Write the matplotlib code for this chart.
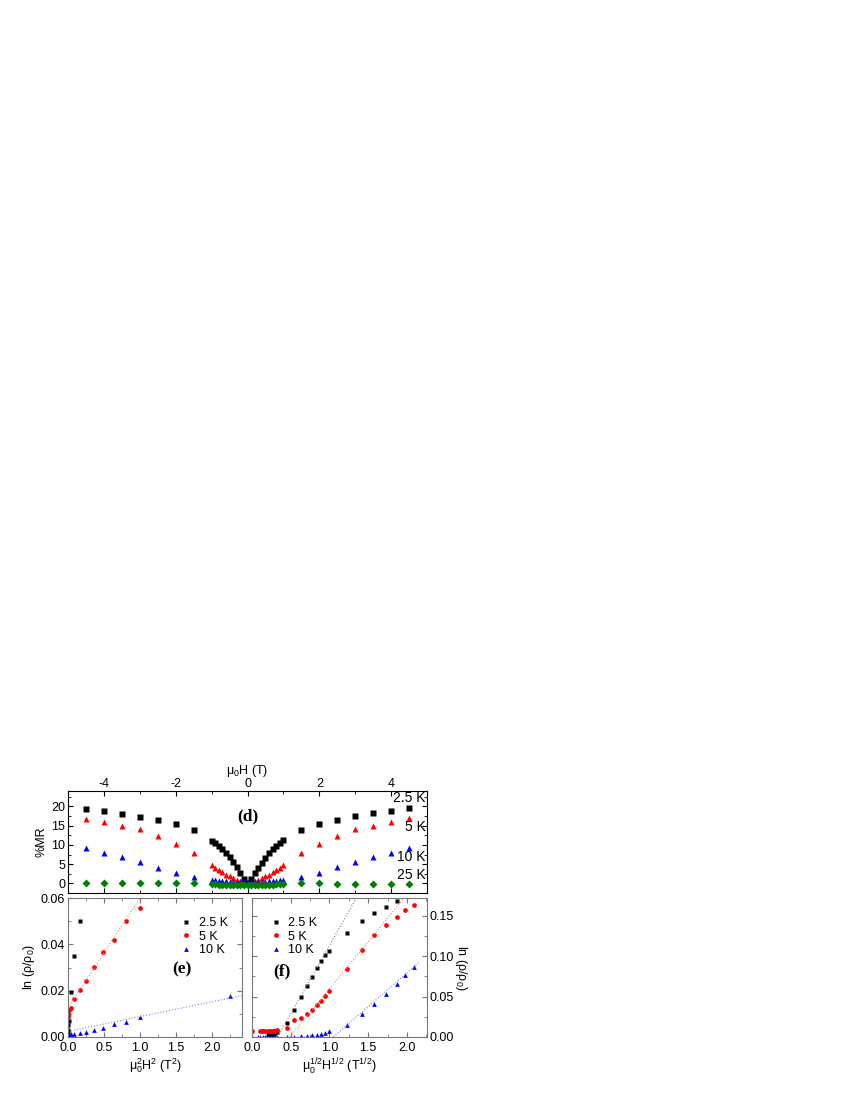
import numpy as np
import matplotlib
matplotlib.use('Agg')
import matplotlib.pyplot as plt
from matplotlib.ticker import MultipleLocator

plt.rcParams['font.family'] = ['Liberation Sans', 'DejaVu Sans']
plt.rcParams['mathtext.default'] = 'regular'
plt.rcParams['axes.unicode_minus'] = False
plt.rcParams['font.size'] = 9

# ---- panel (d): %MR vs field ----
field_d = [-4.5, -4.0, -3.5, -3.0, -2.5, -2.0, -1.5,
           -1.0, -0.9, -0.8, -0.7, -0.6, -0.5, -0.4, -0.3, -0.2, -0.1, 0.0,
           0.1, 0.2, 0.3, 0.4, 0.5, 0.6, 0.7, 0.8, 0.9, 1.0,
           1.5, 2.0, 2.5, 3.0, 3.5, 4.0, 4.5]
mr_2p5K = [19.4, 18.8, 18.1, 17.3, 16.4, 15.3, 13.8,
           10.9, 10.4, 9.7, 8.8, 7.8, 6.8, 5.6, 4.3, 2.8, 1.2, 0.0,
           1.1, 2.6, 4.0, 5.4, 6.7, 7.8, 8.8, 9.7, 10.5, 11.3,
           13.8, 15.4, 16.5, 17.4, 18.2, 18.9, 19.6]
mr_5K = [16.8, 15.9, 15.0, 14.0, 12.4, 10.3, 7.9,
         4.7, 4.1, 3.5, 2.9, 2.3, 1.8, 1.3, 0.9, 0.5, 0.2, 0.0,
         0.2, 0.5, 0.9, 1.3, 1.8, 2.3, 2.9, 3.5, 4.1, 4.8,
         7.9, 10.3, 12.4, 14.0, 15.0, 16.0, 16.9]
mr_10K = [9.1, 7.9, 6.8, 5.5, 4.1, 2.8, 1.6,
          0.9, 0.8, 0.7, 0.6, 0.5, 0.4, 0.4, 0.3, 0.3, 0.3, 0.3,
          0.3, 0.3, 0.3, 0.4, 0.4, 0.5, 0.6, 0.7, 0.8, 0.9,
          1.6, 2.8, 4.2, 5.5, 6.9, 8.0, 9.2]
mr_25K = [0.2, 0.2, 0.2, 0.2, 0.2, 0.2, 0.0,
          -0.1, -0.2, -0.3, -0.3, -0.4, -0.4, -0.5, -0.5, -0.5, -0.5, -0.5,
          -0.5, -0.5, -0.5, -0.4, -0.4, -0.3, -0.3, -0.2, -0.2, -0.1,
          0.0, 0.0, -0.1, -0.1, -0.1, -0.2, -0.1]
temp_labels = ['2.5 K', '5 K', '10 K', '25 K']
temp_label_y = [22.2, 14.7, 6.9, 2.2]

# ---- panel (e): ln(rho/rho0) vs H^2 ----
field_e_2p5K = [0.03, 0.05, 0.06, 0.07, 0.08, 0.09, 0.2, 0.3, 0.4]
lnr_e_2p5K = [0.0005, 0.001, 0.002, 0.003, 0.005, 0.007, 0.0196, 0.035, 0.050]
field_e_5K = [0.03, 0.05, 0.07, 0.1, 0.2, 0.3, 0.4, 0.5, 0.6, 0.7, 0.8, 0.9, 1.0]
lnr_e_5K = [0.0085, 0.0095, 0.0105, 0.0115, 0.0127, 0.0163, 0.0203, 0.0242,
            0.0304, 0.0367, 0.0420, 0.0500, 0.0556]
field_e_10K = [0.05, 0.1, 0.2, 0.3, 0.4, 0.5, 0.6, 0.7, 0.8, 0.9, 1.0, 1.5]
lnr_e_10K = [0.0008, 0.0010, 0.0012, 0.0014, 0.0017, 0.0022, 0.0030, 0.0040,
             0.0057, 0.0066, 0.0087, 0.0177]
# linear fits: (intercept, slope, x_start, x_end)
fit_e_5K = (0.0125, 0.0475, 0.0, 1.0)
fit_e_10K = (0.0024, 0.0064, 0.0, 2.42)

# ---- panel (f): ln(rho/rho0) vs H^1/2 ----
field_f_2p5K = [0.04, 0.05, 0.06, 0.07, 0.08, 0.09, 0.1,
                0.2, 0.3, 0.4, 0.5, 0.6, 0.7, 0.8, 0.9, 1.0,
                1.5, 2.0, 2.5, 3.0, 3.5]
lnr_f_2p5K = [0.002, 0.0025, 0.003, 0.0035, 0.004, 0.005, 0.006,
              0.0178, 0.034, 0.049, 0.063, 0.074, 0.085, 0.094, 0.101, 0.107,
              0.1285, 0.144, 0.153, 0.1615, 0.1686]
field_f_5K = [0.0, 0.01, 0.015, 0.02, 0.03, 0.04, 0.05, 0.06, 0.07, 0.08, 0.09, 0.1,
              0.2, 0.3, 0.4, 0.5, 0.6, 0.7, 0.8, 0.9, 1.0,
              1.5, 2.0, 2.5, 3.0, 3.5, 3.9, 4.4]
lnr_f_5K = [0.0078, 0.0075, 0.0075, 0.0076, 0.0076, 0.0077, 0.0077, 0.0078, 0.0078,
            0.0079, 0.0080, 0.0082,
            0.0108, 0.021, 0.0235, 0.0285, 0.0335, 0.039, 0.044, 0.051, 0.0575,
            0.0847, 0.1075, 0.126, 0.139, 0.149, 0.157, 0.164]
field_f_10K = [0.0, 0.005, 0.01, 0.02, 0.03, 0.04, 0.05, 0.06, 0.07, 0.08, 0.09, 0.1,
               0.2, 0.3, 0.4, 0.5, 0.6, 0.7, 0.8, 0.9, 1.0,
               1.5, 2.0, 2.5, 3.0, 3.5, 3.9, 4.4]
lnr_f_10K = [0.0004, 0.0005, 0.0005, 0.0005, 0.0005, 0.0005, 0.0005, 0.0005, 0.0005,
             0.0005, 0.0005, 0.0005,
             0.0003, 0.0003, 0.0008, 0.0012, 0.0025, 0.003, 0.004, 0.0053, 0.0074,
             0.0152, 0.0289, 0.0405, 0.053, 0.066, 0.077, 0.087]
# linear fits: (x at zero, slope, x_end)
fit_f_2p5K = (0.33, 0.169, 1.35)
fit_f_5K = (0.49, 0.117, 1.96)
fit_f_10K = (1.05, 0.0835, 2.15)

legend_labels = ['2.5 K', '5 K', '10 K']


def style_axis(ax, spine_color):
    for s in ax.spines.values():
        s.set_color(spine_color)
        s.set_linewidth(0.8)
    ax.tick_params(which='both', direction='in', top=True, bottom=True,
                   left=True, right=True, color=spine_color, pad=2, labelsize=9)
    ax.tick_params(which='major', length=3.5)
    ax.tick_params(which='minor', length=2)


fig = plt.figure(figsize=(8.5, 11), dpi=100)

# panel (d)
ax_d = fig.add_axes([0.08, 0.1882, 0.4224, 0.0927])
style_axis(ax_d, 'black')
ax_d.plot(field_d, mr_2p5K, 's', color='black', ms=4.2, mec='none')
ax_d.plot(field_d, mr_5K, '^', color='red', ms=5, mec='none')
ax_d.plot(field_d, mr_10K, '^', color='blue', ms=5, mec='none')
ax_d.plot(field_d, mr_25K, 'D', color='#008000', ms=3.8, mec='none')
for lab, yv in zip(temp_labels, temp_label_y):
    ax_d.text(4.97, yv, lab, ha='right', va='center', fontsize=10)
ax_d.text(0, 17.3, '(d)', ha='center', va='center', fontsize=12.5,
          fontweight='bold', family='Liberation Serif')
ax_d.set_xlim(-5, 5)
ax_d.set_ylim(-2.5, 24)
ax_d.xaxis.set_major_locator(MultipleLocator(2))
ax_d.xaxis.set_minor_locator(MultipleLocator(1))
ax_d.yaxis.set_major_locator(MultipleLocator(5))
ax_d.yaxis.set_minor_locator(MultipleLocator(2.5))
ax_d.tick_params(labelbottom=False, labeltop=True)
ax_d.tick_params(axis='x', pad=0.5)
ax_d.xaxis.set_label_position('top')
ax_d.set_xlabel('μ$_0$H (T)', fontsize=9, labelpad=3)
ax_d.set_ylabel('%MR', fontsize=9, labelpad=3)

# panel (e)
ax_e = fig.add_axes([0.08, 0.0573, 0.2047, 0.1263])
style_axis(ax_e, '#777777')
ax_e.plot(np.array(field_e_2p5K) ** 2, lnr_e_2p5K, 's', color='black', ms=2.8,
          mec='none', label=legend_labels[0])
ax_e.plot(np.array(field_e_5K) ** 2, lnr_e_5K, 'o', color='red', ms=3.4,
          mec='none', label=legend_labels[1])
ax_e.plot(np.array(field_e_10K) ** 2, lnr_e_10K, '^', color='blue', ms=3.4,
          mec='none', label=legend_labels[2])
for (b, m, x0, x1), c in zip([fit_e_5K, fit_e_10K], ['#ff8080', '#8080ff']):
    xx = np.array([x0, x1])
    ax_e.plot(xx, b + m * xx, ':', color=c, lw=0.8)
ax_e.text(1.58, 0.029, '(e)', ha='center', va='center', fontsize=12.5,
          fontweight='bold', family='Liberation Serif')
ax_e.set_xlim(0, 2.42)
ax_e.set_ylim(0, 0.06)
ax_e.xaxis.set_major_locator(MultipleLocator(0.5))
ax_e.xaxis.set_minor_locator(MultipleLocator(0.25))
ax_e.yaxis.set_major_locator(MultipleLocator(0.02))
ax_e.yaxis.set_minor_locator(MultipleLocator(0.01))
ax_e.yaxis.set_major_formatter(plt.FormatStrFormatter('%.2f'))
ax_e.xaxis.set_major_formatter(plt.FormatStrFormatter('%.1f'))
ax_e.tick_params(axis='x', pad=3.5)
ax_e.set_xlabel('μ$_0^2$H$^2$ (T$^2$)', fontsize=9, labelpad=2)
ax_e.set_ylabel('ln (ρ/ρ$_0$)', fontsize=9, labelpad=3)
ax_e.legend(loc='upper right', frameon=False, fontsize=9, handletextpad=0.4,
            borderaxespad=0.6, labelspacing=0.1, handlelength=1.2,
            bbox_to_anchor=(0.99, 0.95))

# panel (f)
ax_f = fig.add_axes([0.2965, 0.0573, 0.2059, 0.1263])
style_axis(ax_f, '#777777')
ax_f.plot(np.sqrt(field_f_2p5K), lnr_f_2p5K, 's', color='black', ms=2.8,
          mec='none', label=legend_labels[0])
ax_f.plot(np.sqrt(field_f_5K), lnr_f_5K, 'o', color='red', ms=3.4,
          mec='none', label=legend_labels[1])
ax_f.plot(np.sqrt(field_f_10K), lnr_f_10K, '^', color='blue', ms=3.4,
          mec='none', label=legend_labels[2])
for (x0, m, x1), c in zip([fit_f_2p5K, fit_f_5K, fit_f_10K],
                          ['#808080', '#ff8080', '#8080ff']):
    xx = np.array([x0, x1])
    ax_f.plot(xx, m * (xx - x0), ':', color=c, lw=0.8)
ax_f.text(0.38, 0.081, '(f)', ha='center', va='center', fontsize=12.5,
          fontweight='bold', family='Liberation Serif')
ax_f.set_xlim(0, 2.26)
ax_f.set_ylim(0, 0.172)
ax_f.xaxis.set_major_locator(MultipleLocator(0.5))
ax_f.xaxis.set_minor_locator(MultipleLocator(0.25))
ax_f.yaxis.set_major_locator(MultipleLocator(0.05))
ax_f.yaxis.set_minor_locator(MultipleLocator(0.025))
ax_f.yaxis.set_major_formatter(plt.FormatStrFormatter('%.2f'))
ax_f.xaxis.set_major_formatter(plt.FormatStrFormatter('%.1f'))
ax_f.tick_params(labelleft=False, labelright=True)
ax_f.tick_params(axis='x', pad=3.5)
ax_f.yaxis.set_label_position('right')
ax_f.set_xlabel('μ$_0^{1/2}$H$^{1/2}$ (T$^{1/2}$)', fontsize=9, labelpad=2)
ax_f.set_ylabel('ln (ρ/ρ$_0$)', fontsize=9, rotation=270, labelpad=11)
ax_f.legend(loc='upper left', frameon=False, fontsize=9, handletextpad=0.4,
            borderaxespad=0.6, labelspacing=0.1, handlelength=1.2,
            bbox_to_anchor=(0.02, 0.95))

fig.savefig('out.png', dpi=100)
